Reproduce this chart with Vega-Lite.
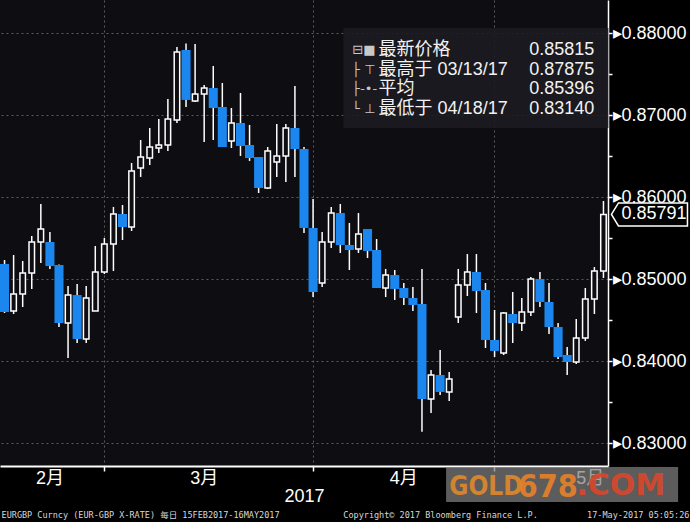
{
  "$schema": "https://vega.github.io/schema/vega-lite/v6.json",
  "width": 608,
  "height": 466,
  "autosize": {"type": "none"},
  "padding": {"left": 0, "top": 0, "right": 82, "bottom": 56},
  "background": "#000000",
  "config": {"view": {"stroke": null, "fill": "#0d0d12"}, "font": "Liberation Sans"},
  "datasets": {
    "fx": [
      {"d": "2017-02-13", "o": 0.85187, "h": 0.85235, "l": 0.84589, "c": 0.84601},
      {"d": "2017-02-14", "o": 0.84613, "h": 0.85296, "l": 0.84577, "c": 0.84821},
      {"d": "2017-02-15", "o": 0.84821, "h": 0.85223, "l": 0.84662, "c": 0.85077},
      {"d": "2017-02-16", "o": 0.85077, "h": 0.85528, "l": 0.84882, "c": 0.85455},
      {"d": "2017-02-17", "o": 0.85455, "h": 0.85918, "l": 0.85199, "c": 0.85613},
      {"d": "2017-02-20", "o": 0.85455, "h": 0.85577, "l": 0.85126, "c": 0.85162},
      {"d": "2017-02-21", "o": 0.85174, "h": 0.8518, "l": 0.84418, "c": 0.84467},
      {"d": "2017-02-22", "o": 0.84467, "h": 0.84918, "l": 0.8404, "c": 0.84808},
      {"d": "2017-02-23", "o": 0.84808, "h": 0.84943, "l": 0.84223, "c": 0.84272},
      {"d": "2017-02-24", "o": 0.84272, "h": 0.84918, "l": 0.84223, "c": 0.84772},
      {"d": "2017-02-27", "o": 0.84613, "h": 0.85406, "l": 0.84613, "c": 0.85089},
      {"d": "2017-02-28", "o": 0.85089, "h": 0.85504, "l": 0.85065, "c": 0.8543},
      {"d": "2017-03-01", "o": 0.8543, "h": 0.85882, "l": 0.85101, "c": 0.85796},
      {"d": "2017-03-02", "o": 0.85796, "h": 0.85906, "l": 0.85479, "c": 0.85638},
      {"d": "2017-03-03", "o": 0.85638, "h": 0.86418, "l": 0.85589, "c": 0.86321},
      {"d": "2017-03-06", "o": 0.86357, "h": 0.86699, "l": 0.86248, "c": 0.86491},
      {"d": "2017-03-07", "o": 0.86479, "h": 0.86845, "l": 0.86394, "c": 0.86613},
      {"d": "2017-03-08", "o": 0.86601, "h": 0.86955, "l": 0.8654, "c": 0.86638},
      {"d": "2017-03-09", "o": 0.86638, "h": 0.87199, "l": 0.86565, "c": 0.86955},
      {"d": "2017-03-10", "o": 0.86943, "h": 0.87833, "l": 0.86906, "c": 0.87772},
      {"d": "2017-03-13", "o": 0.87796, "h": 0.87875, "l": 0.87101, "c": 0.87187},
      {"d": "2017-03-14", "o": 0.87174, "h": 0.87869, "l": 0.87162, "c": 0.8726},
      {"d": "2017-03-15", "o": 0.8726, "h": 0.87369, "l": 0.86674, "c": 0.87333},
      {"d": "2017-03-16", "o": 0.87333, "h": 0.87601, "l": 0.86699, "c": 0.87089},
      {"d": "2017-03-17", "o": 0.87101, "h": 0.87394, "l": 0.86613, "c": 0.86613},
      {"d": "2017-03-20", "o": 0.86687, "h": 0.87089, "l": 0.86601, "c": 0.86906},
      {"d": "2017-03-21", "o": 0.86906, "h": 0.87272, "l": 0.86504, "c": 0.86626},
      {"d": "2017-03-22", "o": 0.86638, "h": 0.86882, "l": 0.86443, "c": 0.86479},
      {"d": "2017-03-23", "o": 0.86491, "h": 0.86491, "l": 0.86052, "c": 0.86113},
      {"d": "2017-03-24", "o": 0.86113, "h": 0.86613, "l": 0.86101, "c": 0.86565},
      {"d": "2017-03-27", "o": 0.8643, "h": 0.86894, "l": 0.86248, "c": 0.86504},
      {"d": "2017-03-28", "o": 0.86504, "h": 0.86894, "l": 0.86187, "c": 0.86845},
      {"d": "2017-03-29", "o": 0.86845, "h": 0.87357, "l": 0.86248, "c": 0.86589},
      {"d": "2017-03-30", "o": 0.86589, "h": 0.86613, "l": 0.85565, "c": 0.85626},
      {"d": "2017-03-31", "o": 0.85626, "h": 0.85979, "l": 0.84784, "c": 0.84845},
      {"d": "2017-04-03", "o": 0.84955, "h": 0.85577, "l": 0.84906, "c": 0.85455},
      {"d": "2017-04-04", "o": 0.85455, "h": 0.85882, "l": 0.85382, "c": 0.85808},
      {"d": "2017-04-05", "o": 0.85808, "h": 0.85918, "l": 0.85321, "c": 0.85418},
      {"d": "2017-04-06", "o": 0.85418, "h": 0.85687, "l": 0.85113, "c": 0.85357},
      {"d": "2017-04-07", "o": 0.85369, "h": 0.85808, "l": 0.85321, "c": 0.85552},
      {"d": "2017-04-10", "o": 0.85613, "h": 0.85613, "l": 0.8526, "c": 0.85345},
      {"d": "2017-04-11", "o": 0.85357, "h": 0.85491, "l": 0.84894, "c": 0.84894},
      {"d": "2017-04-12", "o": 0.84894, "h": 0.85126, "l": 0.84784, "c": 0.85052},
      {"d": "2017-04-13", "o": 0.85052, "h": 0.85113, "l": 0.84748, "c": 0.84882},
      {"d": "2017-04-14", "o": 0.84894, "h": 0.84955, "l": 0.84687, "c": 0.84772},
      {"d": "2017-04-17", "o": 0.84772, "h": 0.84906, "l": 0.84613, "c": 0.84687},
      {"d": "2017-04-18", "o": 0.84699, "h": 0.85126, "l": 0.8314, "c": 0.8354},
      {"d": "2017-04-19", "o": 0.8354, "h": 0.83894, "l": 0.8337, "c": 0.83833},
      {"d": "2017-04-20", "o": 0.83833, "h": 0.84138, "l": 0.83589, "c": 0.83626},
      {"d": "2017-04-21", "o": 0.83626, "h": 0.83869, "l": 0.83516, "c": 0.83784},
      {"d": "2017-04-24", "o": 0.8454, "h": 0.85126, "l": 0.84467, "c": 0.8493},
      {"d": "2017-04-25", "o": 0.8493, "h": 0.85308, "l": 0.84796, "c": 0.85089},
      {"d": "2017-04-26", "o": 0.85089, "h": 0.85308, "l": 0.84589, "c": 0.84857},
      {"d": "2017-04-27", "o": 0.84869, "h": 0.84955, "l": 0.84162, "c": 0.8426},
      {"d": "2017-04-28", "o": 0.8426, "h": 0.84626, "l": 0.84052, "c": 0.84126},
      {"d": "2017-05-01", "o": 0.84101, "h": 0.84601, "l": 0.84077, "c": 0.84589},
      {"d": "2017-05-02", "o": 0.84577, "h": 0.84845, "l": 0.84223, "c": 0.84467},
      {"d": "2017-05-03", "o": 0.84467, "h": 0.84772, "l": 0.84369, "c": 0.84601},
      {"d": "2017-05-04", "o": 0.84601, "h": 0.85028, "l": 0.84552, "c": 0.85004},
      {"d": "2017-05-05", "o": 0.85004, "h": 0.85089, "l": 0.84662, "c": 0.84723},
      {"d": "2017-05-08", "o": 0.84723, "h": 0.84955, "l": 0.84333, "c": 0.84418},
      {"d": "2017-05-09", "o": 0.84418, "h": 0.84467, "l": 0.84028, "c": 0.84052},
      {"d": "2017-05-10", "o": 0.84077, "h": 0.84174, "l": 0.83833, "c": 0.83991},
      {"d": "2017-05-11", "o": 0.83991, "h": 0.84516, "l": 0.83967, "c": 0.84284},
      {"d": "2017-05-12", "o": 0.84284, "h": 0.84894, "l": 0.84248, "c": 0.8476},
      {"d": "2017-05-15", "o": 0.8476, "h": 0.8515, "l": 0.84577, "c": 0.85101},
      {"d": "2017-05-16", "o": 0.85101, "h": 0.85955, "l": 0.85016, "c": 0.85791}
    ]
  },
  "data": {"name": "fx"},
  "resolve": {"axis": {"x": "independent"}},
  "layer": [
    {
      "data": {"values": [{}]},
      "mark": {"type": "point", "shape": "M -133 -50 H 132 V 50 H -133 Z", "size": 4, "filled": true, "fill": "#1b1b21", "fillOpacity": 0.9, "strokeWidth": 0},
      "encoding": {
        "x": {"datum": "2017-04-26", "type": "ordinal", "axis": null},
        "y": {"datum": 0.87455, "type": "quantitative"}
      }
    },
    {
      "mark": {"type": "rule", "color": "#ffffff", "strokeWidth": 1.5},
      "encoding": {
        "x": {
          "field": "d", "type": "ordinal",
          "scale": {"type": "band", "paddingInner": 0, "paddingOuter": 0},
          "axis": {
            "orient": "bottom",
            "values": ["2017-02-28", "2017-03-31", "2017-04-28"],
            "bandPosition": 0.5, "labels": false, "title": null,
            "ticks": true, "tickColor": "#ffffff", "tickSize": 5, "tickWidth": 1.5,
            "domain": true, "domainColor": "#ffffff", "domainWidth": 2,
            "grid": true, "gridColor": "#5c5c5c", "gridDash": [2, 3], "gridWidth": 1
          }
        },
        "y": {
          "field": "l", "type": "quantitative", "title": null,
          "scale": {"domain": [0.82723, 0.88406], "nice": false, "zero": false},
          "axis": {
            "orient": "right", "title": null,
            "values": [0.83, 0.835, 0.84, 0.845, 0.85, 0.855, 0.86, 0.865, 0.87, 0.875, 0.88],
            "domain": true, "domainColor": "#ffffff", "domainWidth": 1.5,
            "ticks": true, "tickColor": "#ffffff", "tickSize": 4, "tickWidth": 1.5,
            "labelExpr": "round(datum.value*1000) % 10 == 0 ? '▸' + format(datum.value, '.5f') : ''",
            "labelColor": "#ffffff", "labelFontSize": 18, "labelFont": "Liberation Sans",
            "labelPadding": 0, "labelBaseline": "middle", "labelFlush": false, "labelOverlap": false,
            "grid": true, "gridColor": "#5c5c5c", "gridDash": [2, 3],
            "gridOpacity": {"condition": {"test": "round(datum.value*1000) % 10 == 0", "value": 1}, "value": 0}
          }
        },
        "y2": {"field": "h"}
      }
    },
    {
      "transform": [{"filter": "datum.c < datum.o"}],
      "mark": {"type": "bar", "color": "#1b86ee", "width": {"band": 1}},
      "encoding": {
        "x": {
          "field": "d", "type": "ordinal",
          "axis": {
            "orient": "bottom",
            "values": ["2017-02-20", "2017-03-15", "2017-04-14", "2017-05-12"],
            "bandPosition": 0.5, "domain": false, "ticks": false, "grid": false,
            "labelExpr": "toNumber(substring(datum.value, 5, 7)) + '月'",
            "labelColor": "#ffffff", "labelFontSize": 18, "labelFont": "Liberation Sans, Noto Sans CJK SC",
            "labelPadding": 3, "labelAngle": 0, "labelOverlap": false,
            "labelOffset": {"condition": {"test": "datum.value == '2017-05-12'", "value": 5}, "value": 0},
            "title": "2017", "titleColor": "#ffffff", "titleFontSize": 18, "titleFontWeight": "normal",
            "titleFont": "Liberation Sans", "titlePadding": 0
          }
        },
        "y": {"field": "o", "type": "quantitative", "title": null},
        "y2": {"field": "c"}
      }
    },
    {
      "transform": [{"filter": "datum.c >= datum.o"}],
      "mark": {"type": "bar", "fill": "#0d0d12", "stroke": "#ffffff", "strokeWidth": 1.5, "width": 5.5},
      "encoding": {
        "x": {"field": "d", "type": "ordinal", "axis": null},
        "y": {"field": "o", "type": "quantitative", "title": null},
        "y2": {"field": "c"}
      }
    },
    {
      "data": {"values": [{}]},
      "mark": {"type": "text", "text": ["⊟■", "├ ⊤", "├-•-", "└ ⊥"], "align": "left", "baseline": "middle", "lineHeight": 19.7, "dx": 12, "font": "DejaVu Sans", "fontSize": 13, "color": "#c8c8c8"},
      "encoding": {
        "x": {"datum": "2017-04-05", "type": "ordinal", "axis": null},
        "y": {"datum": 0.87796, "type": "quantitative"}
      }
    },
    {
      "data": {"values": [{}]},
      "mark": {"type": "text", "text": ["最新价格", "最高于 03/13/17", "平均", "最低于 04/18/17"], "align": "left", "baseline": "middle", "lineHeight": 19.7, "dx": 2, "font": "Liberation Sans, Noto Sans CJK SC", "fontSize": 18, "color": "#f2f2f2"},
      "encoding": {
        "x": {"datum": "2017-04-11", "type": "ordinal", "axis": null},
        "y": {"datum": 0.87796, "type": "quantitative"}
      }
    },
    {
      "data": {"values": [{}]},
      "mark": {"type": "text", "text": ["0.85815", "0.87875", "0.85396", "0.83140"], "align": "right", "baseline": "middle", "lineHeight": 19.7, "dx": 0, "font": "Liberation Sans", "fontSize": 18, "color": "#f2f2f2"},
      "encoding": {
        "x": {"datum": "2017-05-15", "type": "ordinal", "axis": null},
        "y": {"datum": 0.87796, "type": "quantitative"}
      }
    },
    {
      "data": {"values": [{}]},
      "mark": {"type": "point", "shape": "M 8 0 L 15 -11.5 L 84 -11.5 L 84 11.5 L 15 11.5 Z", "size": 4, "filled": true, "fill": "#000000", "fillOpacity": 1, "stroke": "#ffffff", "strokeOpacity": 1, "strokeWidth": 1.5},
      "encoding": {
        "x": {"datum": "2017-05-16", "type": "ordinal", "axis": null},
        "y": {"datum": 0.85791, "type": "quantitative"}
      }
    },
    {
      "data": {"values": [{}]},
      "mark": {"type": "text", "text": "0.85791", "align": "left", "baseline": "middle", "dx": 18, "font": "Liberation Sans", "fontSize": 18, "color": "#ffffff"},
      "encoding": {
        "x": {"datum": "2017-05-16", "type": "ordinal", "axis": null},
        "y": {"datum": 0.85791, "type": "quantitative"}
      }
    },
    {
      "data": {"values": [{}]},
      "mark": {"type": "text", "text": "EURGBP Curncy (EUR-GBP X-RATE)  每日 15FEB2017-16MAY2017", "align": "left", "baseline": "middle", "dx": -3, "font": "DejaVu Sans Mono, Noto Sans CJK SC", "fontSize": 8.5, "color": "#d8d8d8"},
      "encoding": {
        "x": {"datum": "2017-02-13", "type": "ordinal", "axis": null},
        "y": {"datum": 0.82126, "type": "quantitative"}
      }
    },
    {
      "data": {"values": [{}]},
      "mark": {"type": "text", "text": "Copyright© 2017 Bloomberg Finance L.P.", "align": "left", "baseline": "middle", "dx": 3, "font": "DejaVu Sans Mono", "fontSize": 8.5, "color": "#d8d8d8"},
      "encoding": {
        "x": {"datum": "2017-04-05", "type": "ordinal", "axis": null},
        "y": {"datum": 0.82126, "type": "quantitative"}
      }
    },
    {
      "data": {"values": [{}]},
      "mark": {"type": "text", "text": "17-May-2017 05:05:26", "align": "right", "baseline": "middle", "dx": 86, "font": "DejaVu Sans Mono", "fontSize": 8.5, "color": "#d8d8d8"},
      "encoding": {
        "x": {"datum": "2017-05-16", "type": "ordinal", "axis": null},
        "y": {"datum": 0.82126, "type": "quantitative"}
      }
    },
    {
      "data": {"values": [{}]},
      "mark": {"type": "point", "shape": "M -112 -17.5 H 120 V 17.5 H -112 Z", "size": 4, "filled": true, "fill": "#808080", "fillOpacity": 0.72, "strokeWidth": 0},
      "encoding": {
        "x": {"datum": "2017-05-09", "type": "ordinal", "axis": null},
        "y": {"datum": 0.82498, "type": "quantitative"}
      }
    },
    {
      "data": {"values": [{}]},
      "mark": {"type": "text", "text": "GOLD", "align": "left", "baseline": "alphabetic", "font": "DejaVu Sans Condensed", "fontWeight": "bold", "fontSize": 26, "color": "#e0892c", "opacity": 0.9},
      "encoding": {
        "x": {"datum": "2017-04-21", "type": "ordinal", "axis": null},
        "y": {"datum": 0.8237, "type": "quantitative"}
      }
    },
    {
      "data": {"values": [{}]},
      "mark": {"type": "text", "text": "678", "align": "left", "baseline": "alphabetic", "dx": -4, "font": "DejaVu Sans Condensed", "fontWeight": "bold", "fontSize": 32, "color": "#e8822a", "opacity": 0.9},
      "encoding": {
        "x": {"datum": "2017-05-03", "type": "ordinal", "axis": null},
        "y": {"datum": 0.82345, "type": "quantitative"}
      }
    },
    {
      "data": {"values": [{}]},
      "mark": {"type": "text", "text": ".COM", "align": "left", "baseline": "alphabetic", "font": "DejaVu Sans", "fontWeight": "bold", "fontSize": 30, "color": "#d9482c", "opacity": 0.9},
      "encoding": {
        "x": {"datum": "2017-05-11", "type": "ordinal", "axis": null},
        "y": {"datum": 0.8237, "type": "quantitative"}
      }
    }
  ]
}
